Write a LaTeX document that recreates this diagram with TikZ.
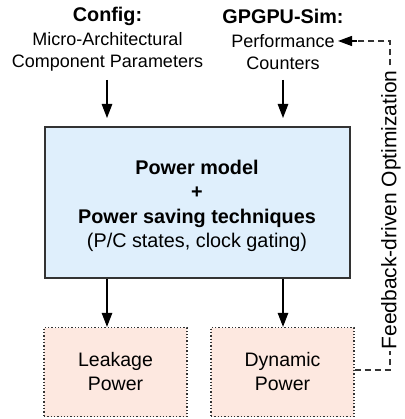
\documentclass[tikz,border=0pt]{standalone}
\usepackage{fontspec}
\setmainfont{Liberation Sans}
\usetikzlibrary{arrows.meta}
\definecolor{boxblue}{HTML}{DFEFFC}
\definecolor{boxpink}{HTML}{FDE8E0}
\definecolor{edgegray}{HTML}{333333}
\tikzset{
  lbl/.style={align=center, font=\fontsize{18}{22}\selectfont, inner sep=0pt},
  mainbox/.style={draw=edgegray, line width=1.6pt, fill=boxblue, minimum width=305pt, minimum height=151pt, inner sep=0pt, align=center},
  outbox/.style={draw=edgegray, line width=1.3pt, dotted, fill=boxpink, minimum width=143pt, minimum height=89pt, inner sep=0pt, align=center, font=\fontsize{19.5}{24}\selectfont},
  flow/.style={-{Triangle[length=14pt,width=10.5pt]}, line width=1.2pt, black},
  fb/.style={dash pattern=on 6pt off 4pt, line width=1.1pt, edgegray},
  fbtip/.style={-{Triangle[length=14pt,width=10pt]}, line width=1.3pt, black},
}
\begin{document}
\begin{tikzpicture}[x=1pt,y=-1pt]
\useasboundingbox (0,0) rectangle (404,419);
% top labels
\node[lbl] (cfg) at (107.5,39) {{\fontsize{19.8}{22}\selectfont\bfseries Config:}\\[2pt]Micro-Architectural\\Component Parameters};
\node[lbl] (sim) at (283,39) {{\fontsize{19.8}{22}\selectfont\bfseries GPGPU-Sim:}\\[2pt]Performance\\Counters};
\coordinate (cfgout) at (107,80);
\coordinate (simout) at (283,80);
\coordinate (simin) at (338,41);
% main box
\node[mainbox] (pm) at (197.5,202.5) {};
\node[align=center, font=\fontsize{19.8}{24.3}\selectfont] (pmtxt) at (197,206) {\textbf{Power model}\\\textbf{+}\\\textbf{Power saving techniques}\\(P/C states, clock gating)};
% outputs
\node[outbox] (leak) at (115.5,372) {Leakage\\Power};
\node[outbox] (dyn) at (282.5,372) {Dynamic\\Power};
% arrows
\draw[flow] (cfgout) -- (107,118);
\draw[flow] (simout) -- (283,118);
\draw[flow] (107,279) -- (leak.north -| 107,0);
\draw[flow] (283,279) -- (dyn.north -| 283,0);
% feedback
\coordinate (fbr) at (390,370);
\coordinate (fbt) at (390,41);
\coordinate (fbend) at (357,41);
\draw[fb] (dyn.east |- fbr) -- (fbr) -- (fbt) -- (fbend);
\begin{scope}[y=1pt]
\draw[fbtip] (fbend) -- (simin);
\end{scope}
\node[fill=white, rotate=90, inner sep=2pt, font=\fontsize{21}{22}\selectfont] (fbl) at (391,210) {Feedback-driven Optimization};
\end{tikzpicture}
\end{document}
